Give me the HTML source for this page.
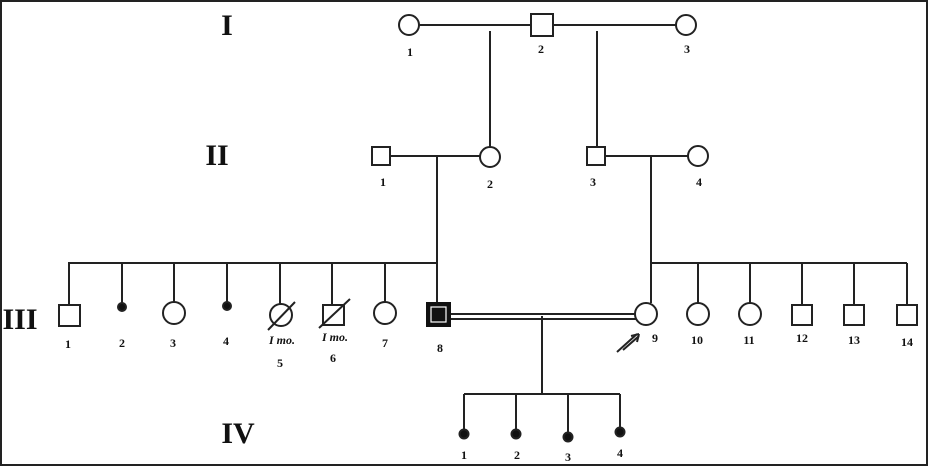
<!DOCTYPE html>
<html><head><style>
html,body{margin:0;padding:0;background:#fff}
svg{display:block}
text{font-family:"Liberation Serif",serif;font-weight:bold;fill:#111;text-anchor:middle}
</style></head><body>
<svg width="928" height="466" viewBox="0 0 928 466" xmlns="http://www.w3.org/2000/svg">
<rect x="1" y="1" width="926" height="464" fill="#fff" stroke="#222" stroke-width="2"/>
<g stroke="#222" stroke-width="2" fill="#fff">
<!-- Gen I -->
<line x1="419" y1="25" x2="531" y2="25"/>
<line x1="553" y1="25" x2="676" y2="25"/>
<line x1="490" y1="31" x2="490" y2="147"/>
<line x1="597" y1="31" x2="597" y2="147"/>
<circle cx="409" cy="25" r="10"/>
<rect x="531" y="14" width="22" height="22"/>
<circle cx="686" cy="25" r="10"/>
<!-- Gen II -->
<line x1="390" y1="156" x2="480" y2="156"/>
<line x1="605" y1="156" x2="688" y2="156"/>
<line x1="437" y1="156" x2="437" y2="302"/>
<line x1="651" y1="156" x2="651" y2="303"/>
<rect x="372" y="147" width="18" height="18"/>
<circle cx="490" cy="157" r="10"/>
<rect x="587" y="147" width="18" height="18"/>
<circle cx="698" cy="156" r="10"/>
<!-- Gen III sibship lines -->
<line x1="68" y1="263" x2="437" y2="263"/>
<line x1="651" y1="263" x2="907" y2="263"/>
<line x1="69" y1="263" x2="69" y2="305"/>
<line x1="122" y1="263" x2="122" y2="305"/>
<line x1="174" y1="263" x2="174" y2="302"/>
<line x1="227" y1="263" x2="227" y2="304"/>
<line x1="280" y1="263" x2="280" y2="304"/>
<line x1="332" y1="263" x2="332" y2="305"/>
<line x1="385" y1="263" x2="385" y2="302"/>
<line x1="698" y1="263" x2="698" y2="303"/>
<line x1="750" y1="263" x2="750" y2="303"/>
<line x1="802" y1="263" x2="802" y2="305"/>
<line x1="854" y1="263" x2="854" y2="305"/>
<line x1="907" y1="263" x2="907" y2="305"/>
<rect x="59" y="305" width="21" height="21"/>
<circle cx="122" cy="307" r="4" fill="#111"/>
<circle cx="174" cy="313" r="11"/>
<circle cx="227" cy="306" r="4" fill="#111"/>
<circle cx="281" cy="315" r="11"/>
<line x1="268" y1="330" x2="295" y2="302"/>
<rect x="323" y="305" width="21" height="20"/>
<line x1="319" y1="328" x2="350" y2="299"/>
<circle cx="385" cy="313" r="11"/>
<!-- consanguineous marriage -->
<line x1="451" y1="314" x2="636" y2="314"/>
<line x1="451" y1="319" x2="636" y2="319"/>
<rect x="427" y="303" width="23" height="23" fill="#111" stroke="#111"/>
<rect x="431" y="307" width="15" height="15" fill="#111" stroke="#fff" stroke-width="1.2"/>
<circle cx="646" cy="314" r="11"/>
<circle cx="698" cy="314" r="11"/>
<circle cx="750" cy="314" r="11"/>
<rect x="792" y="305" width="20" height="20"/>
<rect x="844" y="305" width="20" height="20"/>
<rect x="897" y="305" width="20" height="20"/>
<!-- arrow -->
<line x1="617" y1="352" x2="637" y2="334"/>
<line x1="623" y1="350" x2="639" y2="336"/>
<line x1="639" y1="334" x2="631" y2="336"/>
<line x1="639" y1="334" x2="637" y2="342"/>
<!-- Gen IV -->
<line x1="542" y1="316" x2="542" y2="394"/>
<line x1="464" y1="394" x2="620" y2="394"/>
<line x1="464" y1="394" x2="464" y2="432"/>
<line x1="516" y1="394" x2="516" y2="432"/>
<line x1="568" y1="394" x2="568" y2="434"/>
<line x1="620" y1="394" x2="620" y2="430"/>
<circle cx="464" cy="434" r="4.5" fill="#111"/>
<circle cx="516" cy="434" r="4.5" fill="#111"/>
<circle cx="568" cy="437" r="4.5" fill="#111"/>
<circle cx="620" cy="432" r="4.5" fill="#111"/>
</g>
<!-- Roman numerals -->
<g style="font-size:30px">
<text x="227" y="35">I</text>
<text x="217" y="165">II</text>
<text x="20" y="329">III</text>
<text x="238" y="443">IV</text>
</g>
<g style="font-size:12px">
<text x="410" y="56">1</text>
<text x="541" y="53">2</text>
<text x="687" y="53">3</text>
<text x="383" y="186">1</text>
<text x="490" y="188">2</text>
<text x="593" y="186">3</text>
<text x="699" y="186">4</text>
<text x="68" y="348">1</text>
<text x="122" y="347">2</text>
<text x="173" y="347">3</text>
<text x="226" y="345">4</text>
<text x="280" y="367">5</text>
<text x="333" y="362">6</text>
<text x="385" y="347">7</text>
<text x="440" y="352">8</text>
<text x="655" y="342">9</text>
<text x="697" y="344">10</text>
<text x="749" y="344">11</text>
<text x="802" y="342">12</text>
<text x="854" y="344">13</text>
<text x="907" y="346">14</text>
<text x="464" y="459">1</text>
<text x="517" y="459">2</text>
<text x="568" y="461">3</text>
<text x="620" y="457">4</text>
</g>
<g style="font-size:12px;font-style:italic">
<text x="282" y="344">I mo.</text>
<text x="335" y="341">I mo.</text>
</g>
</svg>
</body></html>
